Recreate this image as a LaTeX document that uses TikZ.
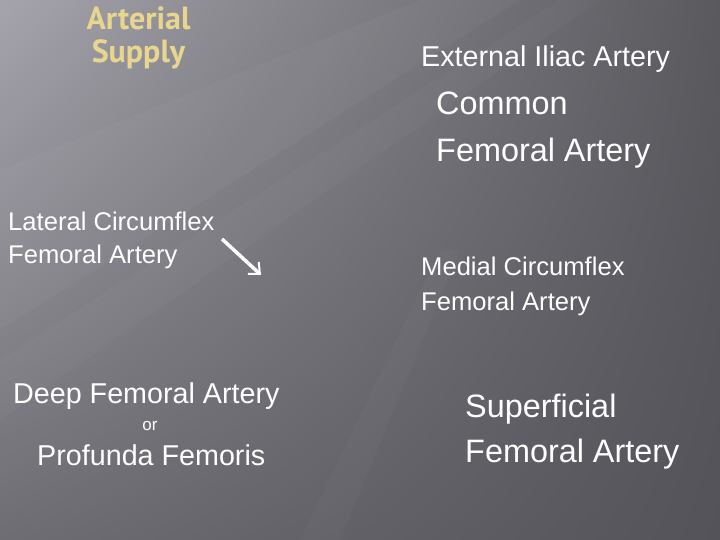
\documentclass[tikz,border=0pt]{standalone}
\usepackage{fontspec}
\setmainfont{Liberation Sans}
\newfontfamily\titlefont{PT Sans}
\usetikzlibrary{arrows.meta,shadings}
\definecolor{bgTL}{HTML}{A5A3AB}
\definecolor{bgTR}{HTML}{5A595E}
\definecolor{bgBL}{HTML}{6E6D74}
\definecolor{bgBR}{HTML}{545359}
\definecolor{titlecol}{HTML}{E8D68E}
\tikzset{
  lbl/.style={anchor=base west, inner sep=0pt, text=white},
  sm/.style={lbl, font=\fontsize{25.6}{30}\selectfont},
  md/.style={lbl, font=\fontsize{28.7}{34}\selectfont},
  lg/.style={lbl, font=\fontsize{32.4}{38}\selectfont},
  ttl/.style={anchor=base, inner sep=0pt, text=titlecol, font=\titlefont\bfseries\fontsize{32}{38}\selectfont},
  pointer/.style={draw=white, line width=3.5pt, -{Straight Barb[length=9pt,width=16pt,line width=2pt]}}
}
\begin{document}
\begin{tikzpicture}[x=1pt,y=-1pt]
\useasboundingbox (0,0) rectangle (720,540);
\shade[upper left=bgTL, upper right=bgTR, lower left=bgBL, lower right=bgBR] (0,0) rectangle (720,540);
% faint diagonal streaks
\fill[white, opacity=0.03] (0,170) -- (420,0) -- (520,0) -- (0,330) -- cycle;
\fill[white, opacity=0.025] (0,360) -- (560,0) -- (600,0) -- (0,420) -- cycle;
\fill[white, opacity=0.025] (300,540) -- (440,250) -- (460,250) -- (340,540) -- cycle;
% title
\node[ttl] (t1) at (138.5,30) {Arterial};
\node[ttl] (t2) at (138.5,63) {Supply};
% right column
\node[md] (eia) at (421,67) {External Iliac Artery};
\node[lg] (cfa1) at (436,115) {Common};
\node[lg] (cfa2) at (436,162) {Femoral Artery};
\node[sm] (mcf1) at (421,275) {Medial Circumflex};
\node[sm] (mcf2) at (421,310) {Femoral Artery};
\node[lg] (sfa1) at (465,417) {Superficial};
\node[lg] (sfa2) at (465,462) {Femoral Artery};
% left column
\node[sm] (lcf1) at (8,230) {Lateral Circumflex};
\node[sm] (lcf2) at (8,263) {Femoral Artery};
\node[md] (dfa) at (13,403) {Deep Femoral Artery};
\node[anchor=base, inner sep=0pt, text=white, font=\fontsize{17}{20}\selectfont] (or) at (150,430) {or};
\node[md] (pf) at (37,465) {Profunda Femoris};
% arrow
\coordinate (ps) at (222,239);
\coordinate (pe) at (261,275);
\draw[pointer] (ps) -- (pe);
\end{tikzpicture}
\end{document}
